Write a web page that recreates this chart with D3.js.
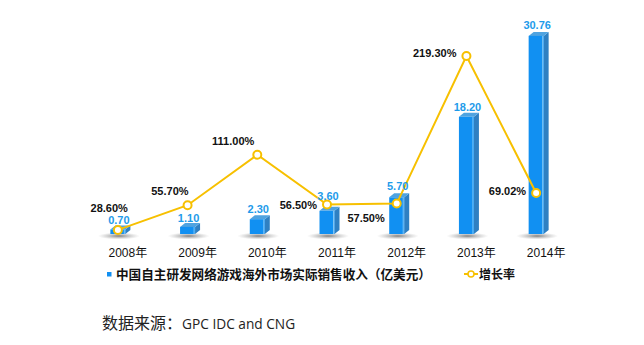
<!DOCTYPE html>
<html><head><meta charset="utf-8">
<script src="https://cdn.jsdelivr.net/npm/d3@7"></script>
<style>body{margin:0;background:#fff}svg{display:block}</style>
</head><body>
<svg id="c" width="644" height="345"></svg>
<script>
const categories = ["2008年","2009年","2010年","2011年","2012年","2013年","2014年"];
const revenue = [0.70, 1.10, 2.30, 3.60, 5.70, 18.20, 30.76];
const growth = [28.60, 55.70, 111.00, 56.50, 57.50, 219.30, 69.02];
const revenueName = "中国自主研发网络游戏海外市场实际销售收入（亿美元）";
const growthName = "增长率";
const sourceLabel = "数据来源：";
const sourceText = "GPC IDC and CNG";

// label placements for growth values: [anchor, dx, dy]
const growthLabelPos = [
  ["end", 10, -22], ["end", 1, -14], ["end", -3, -14], ["end", -10, 1],
  ["end", -12, 14], ["end", -10, -3], ["end", -10, -2]
];
// extra lift for revenue labels
const revenueLabelGap = [5, 5, 6, 11, 7, 6, 7];

const svg = d3.select("#c");
const x = d3.scaleBand().domain(categories).range([83, 571]);
const yBar = d3.scaleLinear().domain([0, 35]).range([234, 8.6]);
const yLine = d3.scaleLinear().domain([0, 250]).range([256, 28]);
const cx = c => x(c) + x.bandwidth() / 2;

const fw = 15, dep = 5, rise = 4;
const defs = svg.append("defs");
const rg = defs.append("radialGradient").attr("id", "sh");
rg.append("stop").attr("offset", "0%").attr("stop-color", "#555").attr("stop-opacity", 0.75);
rg.append("stop").attr("offset", "100%").attr("stop-color", "#999").attr("stop-opacity", 0);

const bars = svg.append("g");
categories.forEach((c, i) => {
  const xc = cx(c), x0 = xc - fw / 2, x1 = xc + fw / 2;
  const top = yBar(revenue[i]), base = yBar(0);
  bars.append("ellipse").attr("cx", xc + 1).attr("cy", base + 2).attr("rx", 21).attr("ry", 3.5)
    .attr("fill", "url(#sh)");
  bars.append("path").attr("d", `M${x1},${top} L${x1 + dep},${top - rise} L${x1 + dep},${base - rise} L${x1},${base} Z`)
    .attr("fill", "#2F80C2");
  bars.append("path").attr("d", `M${x0},${top} L${x0 + dep},${top - rise} L${x1 + dep},${top - rise} L${x1},${top} Z`)
    .attr("fill", "#4FA3E0");
  bars.append("rect").attr("x", x0).attr("y", top).attr("width", fw).attr("height", base - top)
    .attr("fill", "#1190F2");
  bars.append("line").attr("x1", x1 - 1).attr("x2", x1 - 1).attr("y1", top).attr("y2", base)
    .attr("stroke", "#7CC4F5").attr("stroke-width", 1);
});

const line = d3.line().x((d, i) => cx(categories[i])).y(d => yLine(d));
svg.append("path").datum(growth).attr("d", line).attr("fill", "none")
  .attr("stroke", "#F7C000").attr("stroke-width", 2);
svg.append("g").selectAll("circle").data(growth).join("circle")
  .attr("cx", (d, i) => cx(categories[i])).attr("cy", d => yLine(d)).attr("r", 4)
  .attr("fill", "#fff").attr("stroke", "#F7C000").attr("stroke-width", 2);

svg.append("g").selectAll("text").data(revenue).join("text")
  .attr("x", (d, i) => cx(categories[i]) + 1)
  .attr("y", (d, i) => yBar(d) - revenueLabelGap[i])
  .attr("text-anchor", "middle")
  .attr("font-family", "Liberation Sans, Arial, sans-serif").attr("font-weight", "bold")
  .attr("font-size", 11).attr("fill", "#1E9BEA").text(d => d.toFixed(2));

svg.append("g").selectAll("text").data(growth).join("text")
  .attr("x", (d, i) => cx(categories[i]) + growthLabelPos[i][1])
  .attr("y", (d, i) => yLine(d) + growthLabelPos[i][2] + 4)
  .attr("text-anchor", (d, i) => growthLabelPos[i][0])
  .attr("font-family", "Liberation Sans, Arial, sans-serif").attr("font-weight", "bold")
  .attr("font-size", 11).attr("fill", "#111").text(d => d.toFixed(2) + "%");

const xAxis = d3.axisBottom(x).tickSize(0).tickPadding(0);
const ax = svg.append("g").attr("transform", "translate(10,248)").call(xAxis);
ax.select(".domain").remove();
ax.selectAll("text").attr("font-family", "Liberation Sans, Noto Sans CJK SC, sans-serif")
  .attr("font-size", 12).attr("fill", "#111");

const lg = svg.append("g").attr("font-family", "Noto Sans CJK SC, sans-serif").attr("font-weight", "bold")
  .attr("font-size", 12.6).attr("fill", "#111");
lg.append("rect").attr("x", 107).attr("y", 272).attr("width", 4.5).attr("height", 4.5).attr("fill", "#1190F2");
lg.append("text").attr("x", 116).attr("y", 279).text(revenueName);
lg.append("line").attr("x1", 464).attr("x2", 478).attr("y1", 274).attr("y2", 274).attr("stroke", "#F7C000").attr("stroke-width", 2);
lg.append("circle").attr("cx", 471).attr("cy", 274).attr("r", 3).attr("fill", "#fff").attr("stroke", "#F7C000").attr("stroke-width", 1.5);
lg.append("text").attr("x", 479).attr("y", 279).attr("font-size", 12).text(growthName);

const src = svg.append("text").attr("x", 102).attr("y", 329).attr("fill", "#222");
src.append("tspan").attr("font-family", "Noto Sans CJK SC, sans-serif").attr("font-size", 16).text(sourceLabel);
src.append("tspan").attr("font-family", "Open Sans, sans-serif").attr("font-size", 13.7).text(sourceText);
</script>
</body></html>
